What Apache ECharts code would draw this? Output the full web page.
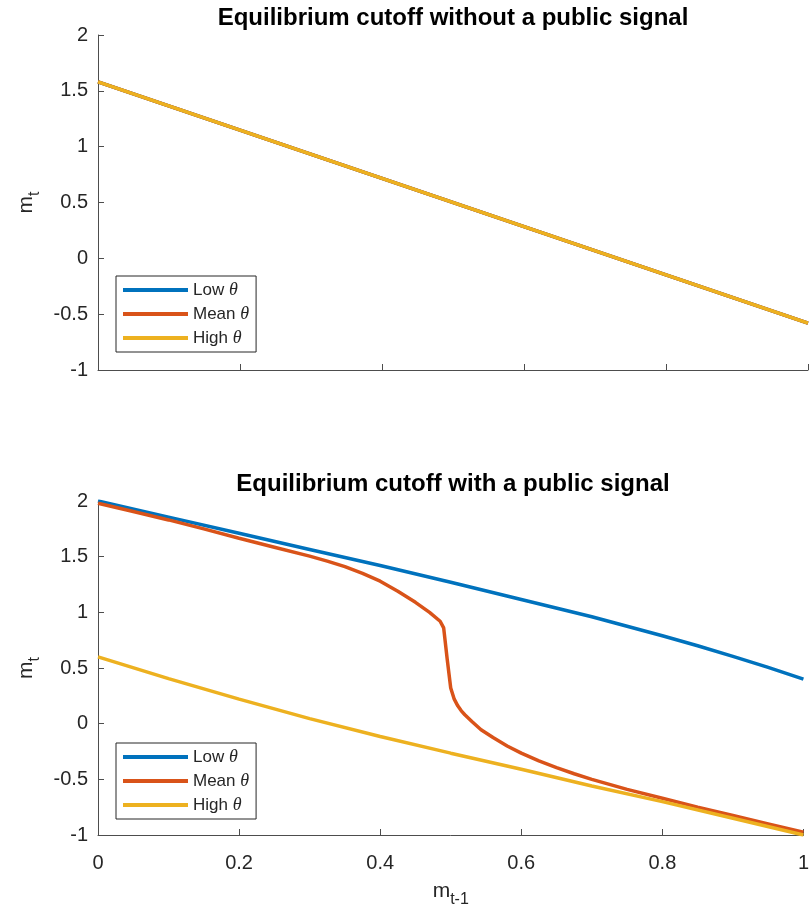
<!DOCTYPE html>
<html>
<head>
<meta charset="utf-8">
<title>Equilibrium cutoff</title>
<script src="https://cdn.jsdelivr.net/npm/echarts@6/dist/echarts.min.js"></script>
<style>
  html, body { margin: 0; padding: 0; background: #fff; }
  #main { width: 812px; height: 917px; }
</style>
</head>
<body>
<div id="main"></div>
<script>
// top panel: without a public signal (the three cutoffs coincide)
const xTop = [0, 1]
const lowTop = [1.58, -0.58]
const meanTop = [1.58, -0.58]
const highTop = [1.58, -0.58]

// bottom panel: with a public signal
const xLow = [0, 0.1, 0.2, 0.3, 0.4, 0.5, 0.6, 0.7, 0.8, 0.85, 0.9, 0.95, 1]
const lowBottom = [2.0, 1.855, 1.71, 1.565, 1.42, 1.27, 1.115, 0.96, 0.79, 0.70, 0.605, 0.505, 0.40]
const xMean = [0, 0.05, 0.1, 0.15, 0.2, 0.25, 0.3, 0.325, 0.35, 0.375, 0.4, 0.425, 0.45, 0.47, 0.485, 0.49,
  0.495, 0.5, 0.505, 0.51, 0.515, 0.52, 0.53, 0.543, 0.56, 0.58, 0.6, 0.625, 0.65, 0.675, 0.7,
  0.75, 0.8, 0.85, 0.9, 0.95, 1]
const meanBottom = [1.98, 1.905, 1.83, 1.75, 1.665, 1.585, 1.505, 1.46, 1.41, 1.35, 1.28, 1.19, 1.09, 1.0, 0.92, 0.86,
  0.58, 0.32, 0.22, 0.16, 0.115, 0.08, 0.02, -0.055, -0.125, -0.20, -0.265, -0.335, -0.395, -0.45, -0.50,
  -0.59, -0.67, -0.75, -0.825, -0.90, -0.975]
const xHigh = [0, 0.1, 0.2, 0.3, 0.4, 0.5, 0.6, 0.7, 0.8, 0.9, 1]
const highBottom = [0.60, 0.405, 0.22, 0.045, -0.115, -0.265, -0.41, -0.56, -0.70, -0.85, -1.0]

const seriesNames = ['Low', 'Mean', 'High']
const titles = ['Equilibrium cutoff without a public signal', 'Equilibrium cutoff with a public signal']
const colors = ['#0072BD', '#D95319', '#EDB120']

const textColor = '#262626'
const sans = 'Liberation Sans, Arial, Helvetica, sans-serif'

const pairs = (xs, ys) => xs.map((x, i) => [x, ys[i]])

const chart = echarts.init(document.getElementById('main'))

// axis name with a lowered subscript, e.g. m_t
const subRich = {
  m: { fontFamily: sans, fontSize: 21, color: textColor, lineHeight: 22, verticalAlign: 'top' },
  s: { fontFamily: sans, fontSize: 16, color: textColor, lineHeight: 16, verticalAlign: 'top', padding: [11, 0, 0, 0] }
}

function makeX (index, showLabels) {
  const axis = {
    type: 'value',
    gridIndex: index,
    min: 0,
    max: 1,
    interval: 0.2,
    splitLine: { show: false },
    axisLine: { onZero: false, lineStyle: { color: '#4d4d4d', width: 1 } },
    axisTick: { inside: true, length: 6, lineStyle: { color: '#4d4d4d' } },
    axisLabel: {
      show: showLabels,
      color: textColor,
      fontFamily: sans,
      fontSize: 20,
      margin: 18
    }
  }
  if (showLabels) {
    axis.name = '{m|m}{s|t-1}'
    axis.nameLocation = 'middle'
    axis.nameGap = 46
    axis.nameTextStyle = { rich: subRich }
  }
  return axis
}

function makeY (index) {
  return {
    type: 'value',
    gridIndex: index,
    min: -1,
    max: 2,
    interval: 0.5,
    splitLine: { show: false },
    axisLine: { show: true, onZero: false, lineStyle: { color: '#4d4d4d', width: 1 } },
    axisTick: { show: true, inside: true, length: 6, lineStyle: { color: '#4d4d4d' } },
    axisLabel: { color: textColor, fontFamily: sans, fontSize: 20, margin: 10 },
    name: '{m|m}{s|t}',
    nameLocation: 'middle',
    nameGap: 56,
    nameTextStyle: { rich: subRich }
  }
}

function makeLegend (top) {
  return {
    orient: 'vertical',
    left: 116,
    top: top,
    padding: [5, 7, 5, 7],
    itemGap: 6,
    itemWidth: 65,
    itemHeight: 4,
    icon: 'rect',
    selectedMode: false,
    backgroundColor: '#fff',
    borderColor: '#262626',
    borderWidth: 1,
    borderRadius: 0,
    data: seriesNames,
    formatter: name => `{n|${name} }{th|θ}`,
    textStyle: {
      rich: {
        n: { fontFamily: sans, fontSize: 17, color: textColor, lineHeight: 20 },
        th: { fontFamily: 'Liberation Serif, Times New Roman, serif', fontStyle: 'italic', fontSize: 18, color: textColor, lineHeight: 20 }
      }
    }
  }
}

function makeLine (name, idx, data, colorIdx) {
  return {
    name: name,
    type: 'line',
    xAxisIndex: idx,
    yAxisIndex: idx,
    data: data,
    showSymbol: false,
    symbol: 'none',
    animation: false,
    lineStyle: { color: colors[colorIdx], width: 3.5 },
    itemStyle: { color: colors[colorIdx] }
  }
}

const option = {
  backgroundColor: '#fff',
  animation: false,
  title: [
    {
      text: titles[0],
      left: 453,
      top: 6,
      padding: 0,
      textAlign: 'center',
      textStyle: { fontFamily: sans, fontSize: 24, fontWeight: 'bold', color: '#000' }
    },
    {
      text: titles[1],
      left: 453,
      top: 472,
      padding: 0,
      textAlign: 'center',
      textStyle: { fontFamily: sans, fontSize: 24, fontWeight: 'bold', color: '#000' }
    }
  ],
  legend: [makeLegend(276), makeLegend(743)],
  grid: [
    { left: 98, right: 4, top: 35, height: 335 },
    { left: 98, right: 4, top: 501, height: 334 }
  ],
  xAxis: [makeX(0, false), makeX(1, true)],
  yAxis: [makeY(0), makeY(1)],
  series: [
    makeLine(seriesNames[0], 0, pairs(xTop, lowTop), 0),
    makeLine(seriesNames[1], 0, pairs(xTop, meanTop), 1),
    makeLine(seriesNames[2], 0, pairs(xTop, highTop), 2),
    makeLine(seriesNames[0], 1, pairs(xLow, lowBottom), 0),
    makeLine(seriesNames[1], 1, pairs(xMean, meanBottom), 1),
    makeLine(seriesNames[2], 1, pairs(xHigh, highBottom), 2)
  ]
}

chart.setOption(option)
</script>
</body>
</html>
